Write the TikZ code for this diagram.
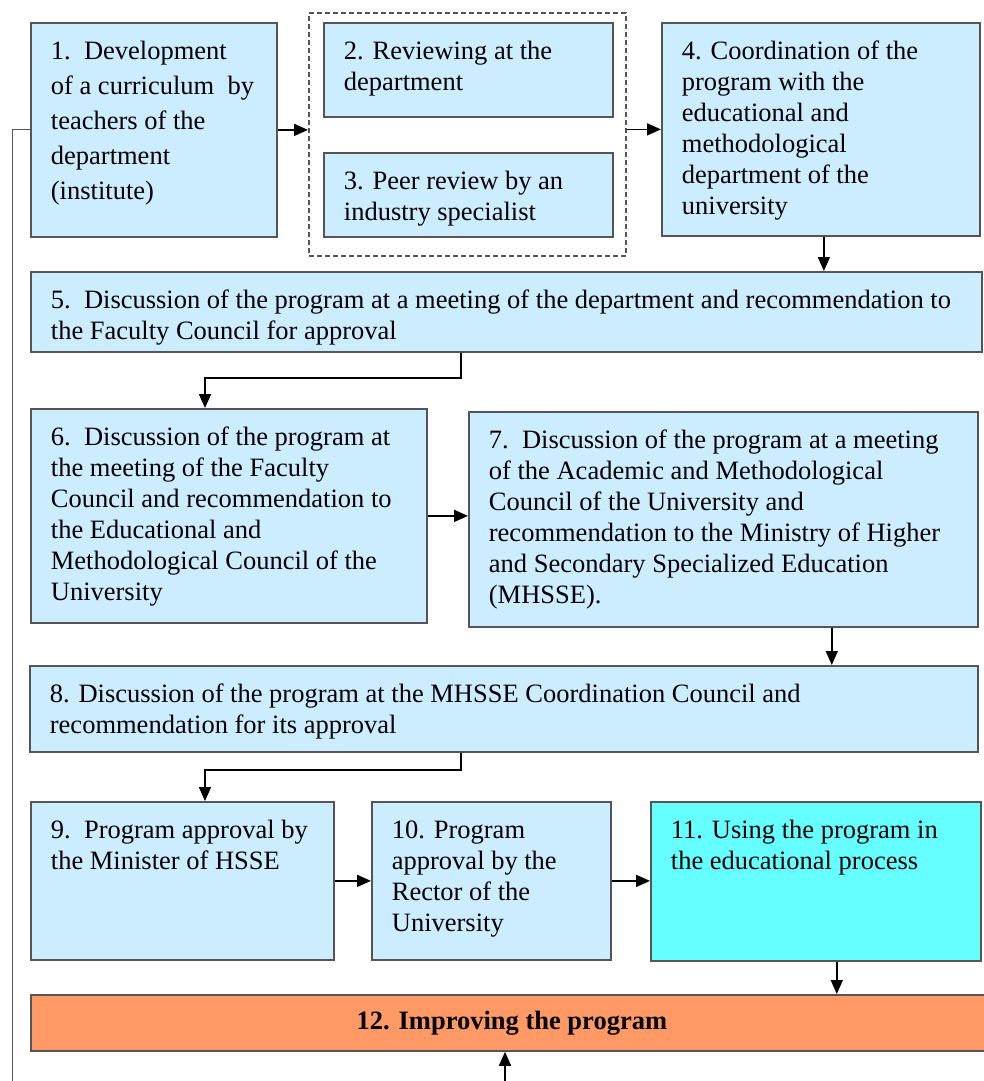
\documentclass[tikz,border=0pt]{standalone}
\usepackage{fontspec}
\setmainfont{Liberation Serif}
\usetikzlibrary{arrows.meta}
\definecolor{stepblue}{RGB}{204,236,255}
\definecolor{usecyan}{RGB}{102,255,255}
\definecolor{improveorange}{RGB}{255,153,102}
\definecolor{edgegray}{RGB}{85,85,85}
\newcommand{\pStepLines}[1]{\spaceskip=0pt\xspaceskip=0pt\begin{tabular}[t]{@{}l@{}}#1\end{tabular}}
\tikzset{
  stepbox/.style={draw=edgegray, fill=stepblue, line width=1.8pt, anchor=north west,
    inner xsep=20pt, inner ysep=15pt, text height=22pt,
    font=\fontsize{26.5}{31}\selectfont},
  groupbox/.style={draw=edgegray, line width=2pt, dash pattern=on 5pt off 3pt, anchor=north west,
    inner sep=0pt},
  flow/.style={draw=black, line width=1.6pt, -{Triangle[length=14pt,width=12pt]}},
  loopline/.style={draw=edgegray, line width=1pt}
}

\begin{document}
\begin{tikzpicture}[x=1pt,y=-1pt]
\useasboundingbox (0,0) rectangle (983,1081);
% first row
\node[groupbox, minimum width=317pt, minimum height=243pt] (grp) at (308,12) {};
\node[stepbox, text width=206pt, text depth=162pt, font=\fontsize{26.5}{35}\selectfont] (b1) at (30,22)
  {\pStepLines{1.\ \ Development\\ of a curriculum\ \ by\\ teachers of the\\ department\\ (institute)}};
\node[stepbox, text width=249pt, text depth=42pt] (b2) at (323,22)
  {\pStepLines{2. Reviewing at the\\ department}};
\node[stepbox, text width=249pt, text depth=32pt] (b3) at (323,152)
  {\pStepLines{3. Peer review by an\\ industry specialist}};
\node[stepbox, text width=278pt, text depth=161pt] (b4) at (661,22)
  {\pStepLines{4. Coordination of the\\ program with the\\ educational and\\ methodological\\ department of the\\ university}};
% second row
\node[stepbox, text width=911pt, text depth=28pt] (b5) at (30,271)
  {\pStepLines{5.\ \ Discussion of the program at a meeting of the department and recommendation to\\ the Faculty Council for approval}};
% third row
\node[stepbox, text width=356pt, text depth=162pt] (b6) at (30,408)
  {\pStepLines{6.\ \ Discussion of the program at\\ the meeting of the Faculty\\ Council and recommendation to\\ the Educational and\\ Methodological Council of the\\ University}};
\node[stepbox, text width=469pt, text depth=163pt] (b7) at (468,411)
  {\pStepLines{7.\ \ Discussion of the program at a meeting\\ of the Academic and Methodological\\ Council of the University and\\ recommendation to the Ministry of Higher\\ and Secondary Specialized Education\\ (MHSSE).}};
% fourth row
\node[stepbox, text width=908pt, text depth=34pt] (b8) at (29,665)
  {\pStepLines{8. Discussion of the program at the MHSSE Coordination Council and\\ recommendation for its approval}};
% fifth row
\node[stepbox, text width=263pt, text depth=106pt] (b9) at (30,801)
  {\pStepLines{9.\ \ Program approval by\\ the Minister of HSSE}};
\node[stepbox, text width=199pt, text depth=106pt] (b10) at (371,801)
  {\pStepLines{10. Program\\ approval by the\\ Rector of the\\ University}};
\node[stepbox, text width=290pt, text depth=107pt, fill=usecyan] (b11) at (650,801)
  {\pStepLines{11. Using the program in\\ the educational process}};
% last row
\node[draw=edgegray, fill=improveorange, line width=1.8pt, anchor=north west, minimum width=962pt,
  minimum height=56pt, font=\fontsize{26.5}{31}\selectfont\bfseries] (b12) at (30,994)
  {12. Improving the program};
\coordinate (loopend) at (12,1090);
\coordinate (feed) at (505,1090);
% connectors
\draw[flow] (b1.east) -- (b1.east -| grp.west);
\draw[flow] (grp.east |- b4.west) -- (b4.west);
\draw[flow] ([xshift=3pt]b4.south) -- ([xshift=3pt]b4.south |- b5.north);
\draw[flow] ([xshift=431pt]b5.south west) -- ++(0,25) -| ([xshift=175pt]b6.north west);
\draw[flow] (b6.east) -- (b6.east -| b7.west);
\draw[flow] ([xshift=-147pt]b7.south east) -- ([xshift=-147pt]b7.south east |- b8.north);
\draw[flow] ([xshift=432pt]b8.south west) -- ++(0,17) -| ([xshift=175pt]b9.north west);
\draw[flow] (b9.east) -- (b9.east -| b10.west);
\draw[flow] (b10.east) -- (b10.east -| b11.west);
\draw[flow] ([xshift=-145pt]b11.south east) -- ([xshift=-145pt]b11.south east |- b12.north);
\draw[loopline] (b1.west) -| (loopend);
\draw[flow] (feed) -- (feed |- b12.south);
\end{tikzpicture}
\end{document}
